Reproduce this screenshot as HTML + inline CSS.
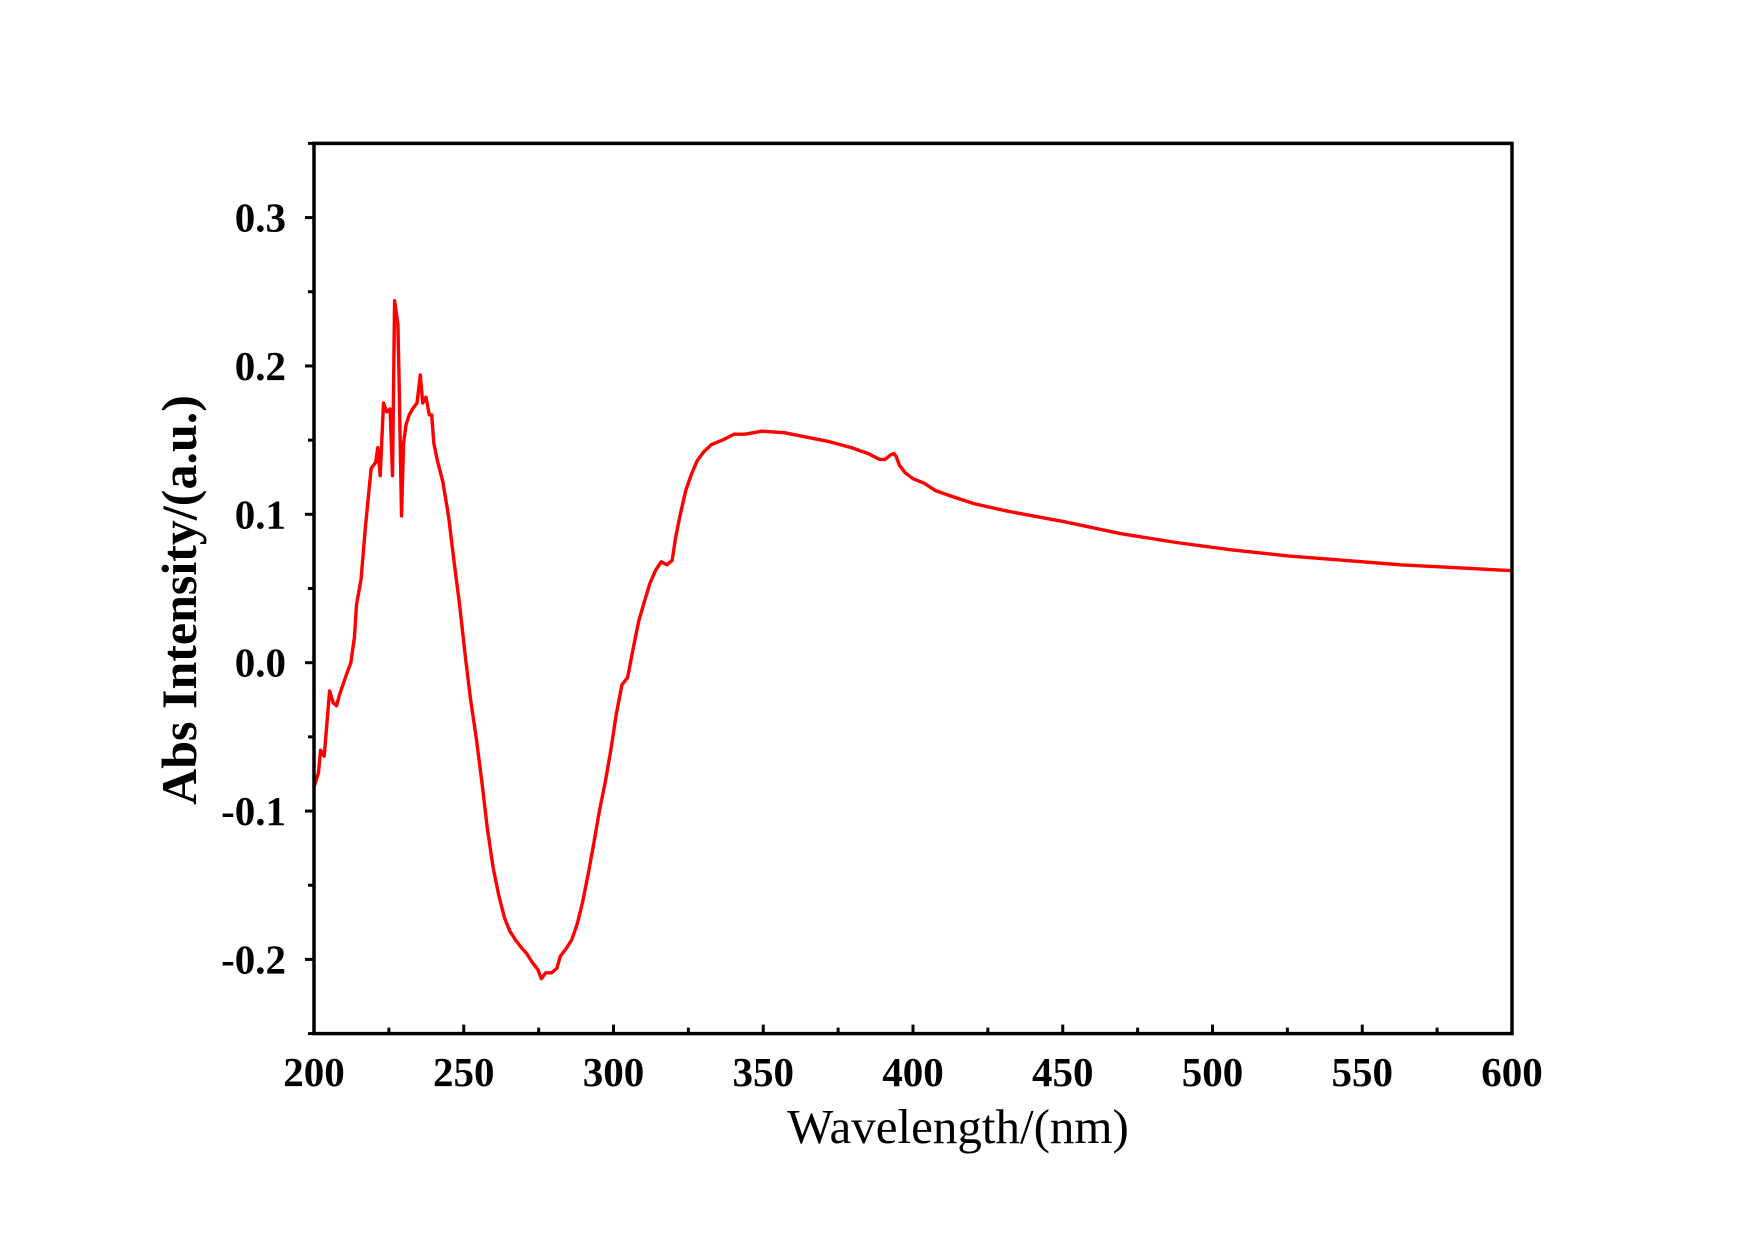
<!DOCTYPE html>
<html><head><meta charset="utf-8"><style>
html,body{margin:0;padding:0;background:#fff;}
svg{display:block;}
text{font-family:"Liberation Serif",serif;fill:#000;}
</style></head><body>
<svg id="chart" width="1755" height="1240" viewBox="0 0 1755 1240" xmlns="http://www.w3.org/2000/svg">
<rect width="1755" height="1240" fill="#fff"/>
<g id="ticks"></g>
<g id="labels"></g>
<path id="series" fill="none" stroke="#ff0000" stroke-width="3.4" stroke-linejoin="round"/>
<rect x="314" y="143.4" width="1198" height="890.2" fill="none" stroke="#000" stroke-width="3.5"/>
<text x="958" y="1143" font-size="49" text-anchor="middle">Wavelength/(nm)</text>
<text transform="translate(196,600) rotate(-90)" font-size="50" font-weight="bold" text-anchor="middle">Abs Intensity/(a.u.)</text>
</svg>
<script>
const wavelengths=[200,201.5,202.2,203.4,204.5,205.2,206.4,207.5,208.6,210.5,212.3,213.5,214.2,215.7,217.2,218.3,219.1,220.6,221.3,222.1,223.2,224.3,225.4,226.2,226.9,228.0,228.4,229.2,229.9,230.7,231.8,232.9,234.4,235.5,236.3,237.4,238.5,239.3,240.0,241.1,243.0,244.9,246.7,248.6,250.5,252.3,254.2,256.1,257.9,259.8,261.7,263.6,265.4,267.3,269.2,271.0,272.9,274.8,275.9,277.4,279.3,281.1,282.2,284.1,286.0,287.9,289.7,291.6,293.5,295.3,297.2,299.1,300.9,302.8,304.7,306.5,308.4,310.3,312.1,314.0,315.9,317.8,319.6,320.7,322.2,324.1,326.0,327.9,330.1,332.7,336.4,340.2,343.9,349.5,357.0,364.5,372.0,379.4,385.0,388.8,390.7,392.5,393.6,394.4,395.5,397.4,400.0,403.7,407.5,413.1,420.6,431.8,450.5,469.2,487.9,506.5,525.2,543.9,562.6,581.3,600];
const absorbance=[-0.084,-0.074,-0.059,-0.063,-0.036,-0.019,-0.027,-0.029,-0.021,-0.010,0.000,0.017,0.039,0.056,0.092,0.115,0.131,0.135,0.145,0.126,0.175,0.169,0.171,0.126,0.244,0.228,0.190,0.099,0.148,0.160,0.167,0.171,0.175,0.194,0.175,0.179,0.167,0.167,0.148,0.137,0.122,0.099,0.069,0.039,0.005,-0.025,-0.051,-0.081,-0.112,-0.138,-0.157,-0.172,-0.181,-0.187,-0.192,-0.196,-0.202,-0.207,-0.213,-0.209,-0.209,-0.206,-0.198,-0.193,-0.187,-0.176,-0.161,-0.142,-0.121,-0.100,-0.081,-0.059,-0.035,-0.015,-0.010,0.009,0.028,0.041,0.053,0.062,0.068,0.066,0.069,0.084,0.099,0.116,0.127,0.136,0.142,0.147,0.150,0.154,0.154,0.156,0.155,0.152,0.149,0.145,0.141,0.137,0.137,0.140,0.141,0.139,0.133,0.128,0.124,0.121,0.116,0.112,0.107,0.102,0.095,0.087,0.081,0.076,0.072,0.069,0.066,0.064,0.062];
const xTickLabels=["200","250","300","350","400","450","500","550","600"];
const yTickLabels=["-0.2","-0.1","0.0","0.1","0.2","0.3"];
const X0=314,X1=1512,Y0=1033.6,Y1=143.4;
const xMin=200,xMax=600,yMin=-0.25,yMax=0.35;
function sx(v){return X0+(v-xMin)/(xMax-xMin)*(X1-X0);}
function sy(v){return Y0-(v-yMin)/(yMax-yMin)*(Y0-Y1);}
const NS="http://www.w3.org/2000/svg";
const ticks=document.getElementById('ticks'),labels=document.getElementById('labels');
function line(x1,y1,x2,y2,name){const l=document.createElementNS(NS,'line');l.setAttribute('x1',x1);l.setAttribute('y1',y1);l.setAttribute('x2',x2);l.setAttribute('y2',y2);l.setAttribute('stroke','#000');l.setAttribute('stroke-width','3');


ticks.appendChild(l);}
for(let v=xMin;v<=xMax;v+=25){const x=sx(v);const major=(v%50===0);line(x,Y0,x,Y0-(major?9:6),major?'x-major-tick':'x-minor-tick');}
for(let i=0;i<=12;i++){const v=-0.25+i*0.05;const y=sy(v);const major=(i%2===1);line(X0,y,X0-(major?9:6),y,major?'y-major-tick':'y-minor-tick');}
xTickLabels.forEach(t=>{const e=document.createElementNS(NS,'text');e.setAttribute('x',sx(+t));e.setAttribute('y',1086);e.setAttribute('font-size','41');e.setAttribute('font-weight','bold');e.setAttribute('text-anchor','middle');e.textContent=t;


labels.appendChild(e);});
yTickLabels.forEach(t=>{const e=document.createElementNS(NS,'text');e.setAttribute('x',286);e.setAttribute('y',sy(+t)+14);e.setAttribute('font-size','41');e.setAttribute('font-weight','bold');e.setAttribute('text-anchor','end');e.textContent=t;


labels.appendChild(e);});
let d='';wavelengths.forEach((w,i)=>{d+=(i?'L':'M')+sx(w).toFixed(1)+','+sy(absorbance[i]).toFixed(1);});
document.getElementById('series').setAttribute('d',d);
</script>
</body></html>
